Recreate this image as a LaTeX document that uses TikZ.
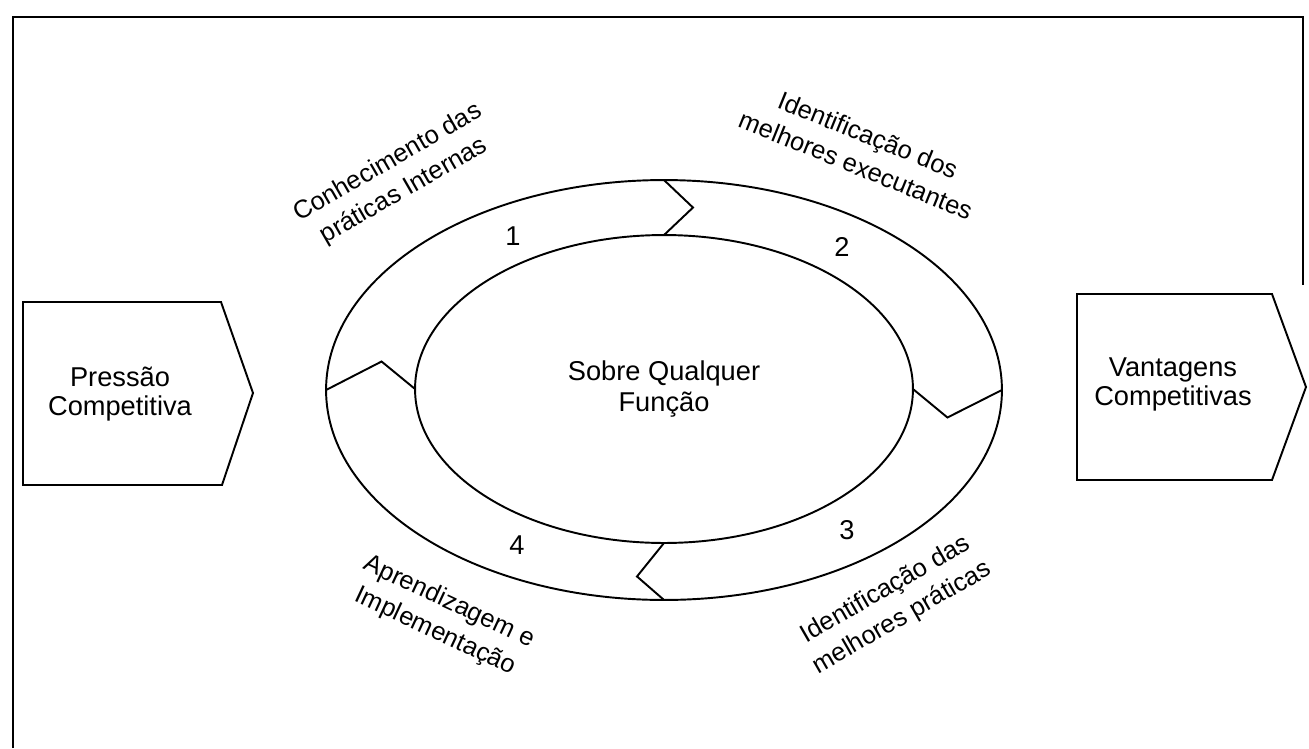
\documentclass[tikz,border=0pt]{standalone}
\usepackage{fontspec}
\setmainfont{Liberation Sans}
\usetikzlibrary{shapes.geometric,calc}
\begin{document}
\begin{tikzpicture}[x=0.02cm,y=-0.02cm,
  ring/.style={draw, ellipse, inner sep=0pt, outer sep=0pt, line width=1.1pt},
  divider/.style={line width=1.1pt, line join=miter},
  arrowbox/.style={draw, line width=1.1pt, line join=miter},
  boxtext/.style={align=center, font=\fontsize{15.5}{16.5}\selectfont, inner sep=0pt},
  steplabel/.style={align=center, font=\fontsize{14.5}{18.5}\selectfont, inner sep=0pt},
  stepnum/.style={font=\fontsize{15.5}{17}\selectfont, inner sep=0pt},
  frame/.style={line width=1.4pt}]
\useasboundingbox (0,0) rectangle (1309,748);

% outer frame
\draw[frame] (13,748) -- (13,17) -- (1303,17) -- (1303,285);

% the two rings of the cycle
\node[ring, minimum width=13.52cm, minimum height=8.4cm] (outer) at (664,390) {};
\node[ring, minimum width=9.96cm, minimum height=6.16cm, align=center,
      font=\fontsize{15.5}{17.5}\selectfont] (inner) at (664,389) {Sobre Qualquer\\Função};

% chevrons dividing the ring into four steps
\draw[divider] (outer.north) -- ($(outer.north)!0.5!(inner.north)+(29,0)$) -- (inner.north);
\draw[divider] (outer.east) -- ($(outer.east)!0.5!(inner.east)+(-10,28)$) -- (inner.east);
\draw[divider] (outer.south) -- ($(outer.south)!0.5!(inner.south)+(-27,5)$) -- (inner.south);
\draw[divider] (outer.west) -- ($(outer.west)!0.5!(inner.west)+(11,-28)$) -- (inner.west);

% step numbers
\node[stepnum] (n1) at (513,236) {1};
\node[stepnum] (n2) at (842,247) {2};
\node[stepnum] (n3) at (847,530) {3};
\node[stepnum] (n4) at (517,545) {4};

% step labels
\node[steplabel, rotate=30] (l1) at (396,177) {Conhecimento das\\práticas Internas};
\node[steplabel, rotate=-22] (l2) at (862,150) {Identificação dos\\melhores executantes};
\node[steplabel, rotate=30] (l3) at (894,604) {Identificação das\\melhores práticas};
\node[steplabel, rotate=-25] (l4) at (442,617) {Aprendizagem e\\Implementação};

% input and output arrows
\draw[arrowbox] (23,302) -- (221,302) -- (253,393) -- (222,485) -- (23,485) -- cycle;
\node[boxtext] (pressao) at (120,394) {Pressão\\Competitiva};
\draw[arrowbox] (1077,294) -- (1272,294) -- (1306,387) -- (1272,480) -- (1077,480) -- cycle;
\node[boxtext] (vantagens) at (1173,384) {Vantagens\\Competitivas};
\end{tikzpicture}
\end{document}
